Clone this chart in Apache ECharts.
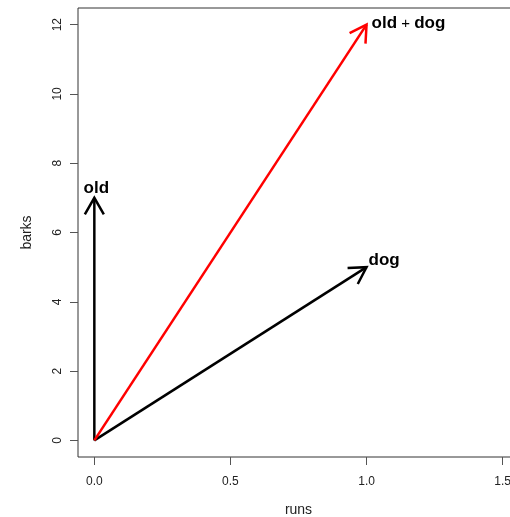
<!DOCTYPE html>
<html>
<head>
<meta charset="utf-8">
<script src="https://cdn.jsdelivr.net/npm/echarts@6/dist/echarts.min.js"></script>
<style>html,body{margin:0;padding:0;background:#fff}#c{width:510px;height:517px}</style>
</head>
<body>
<div id="c"></div>
<script>
// ---- data ----
const vectorNames = ['old', 'dog', 'old + dog'];
const vectorRuns = [0, 1, 1];      // x end (start at origin)
const vectorBarks = [7, 5, 12];    // y end
const xTicks = [0, 0.5, 1.0, 1.5];
const yTicks = [0, 2, 4, 6, 8, 10, 12];
const xTitle = 'runs';
const yTitle = 'barks';

// ---- styles ----
const vectorColors = ['#000000', '#000000', '#ff0000'];
const labelStyle = [
  { align: 'center', dx: 2, dy: -10 },
  { align: 'left', dx: 2, dy: -7 },
  { align: 'left', dx: 5, dy: -1 }
];
const FONT = '"Liberation Sans", Arial, Helvetica, sans-serif';

const chart = echarts.init(document.getElementById('c'), null, { renderer: 'canvas' });

const data = vectorNames.map((n, i) => [vectorRuns[i], vectorBarks[i], i]);

function renderItem(params, api) {
  const i = api.value(2);
  const p0 = api.coord([0, 0]);
  const p1 = api.coord([api.value(0), api.value(1)]);
  const color = vectorColors[i];
  const ang = Math.atan2(p1[1] - p0[1], p1[0] - p0[0]);
  const L = 19, a = Math.PI / 6;
  const h1 = [p1[0] - L * Math.cos(ang - a), p1[1] - L * Math.sin(ang - a)];
  const h2 = [p1[0] - L * Math.cos(ang + a), p1[1] - L * Math.sin(ang + a)];
  const ls = labelStyle[i];
  const name = vectorNames[i];
  let textStyle;
  if (name.indexOf('+') >= 0) {
    const parts = name.split('+').map(s => s.trim());
    textStyle = {
      text: '{b|' + parts[0] + '}{p| + }{b|' + parts[1] + '}',
      rich: {
        b: { fontFamily: FONT, fontWeight: 'bold', fontSize: 17, fill: '#000' },
        p: { fontFamily: FONT, fontWeight: 'normal', fontSize: 15, fill: '#000' }
      }
    };
  } else {
    textStyle = { text: name, fontFamily: FONT, fontWeight: 'bold', fontSize: 17, fill: '#000' };
  }
  textStyle.x = p1[0] + ls.dx;
  textStyle.y = p1[1] + ls.dy;
  textStyle.align = ls.align;
  textStyle.verticalAlign = 'middle';
  return {
    type: 'group',
    children: [
      { type: 'line', shape: { x1: p0[0], y1: p0[1], x2: p1[0], y2: p1[1] },
        style: { stroke: color, lineWidth: 2.5 } },
      { type: 'polyline', shape: { points: [h1, p1, h2] },
        style: { stroke: color, lineWidth: 2.5, fill: null, lineJoin: 'miter' } },
      { type: 'text', style: textStyle }
    ]
  };
}

chart.setOption({
  animation: false,
  backgroundColor: '#fff',
  grid: { left: 78, top: 8, width: 441, height: 449, show: true, borderColor: '#333', borderWidth: 1,
    backgroundColor: 'transparent', containLabel: false, outerBoundsMode: 'none' },
  xAxis: {
    type: 'value', min: -0.06, max: 1.56,
    name: xTitle, nameLocation: 'middle', nameGap: 46,
    nameTextStyle: { fontFamily: FONT, fontSize: 14, color: '#222' },
    axisLine: { show: false, onZero: false },
    splitLine: { show: false },
    axisTick: { show: true, inside: false, length: 8, customValues: xTicks, lineStyle: { color: '#555', width: 1 } },
    axisLabel: { customValues: xTicks, margin: 19, fontFamily: FONT, fontSize: 12, color: '#222',
      formatter: v => v.toFixed(1) }
  },
  yAxis: {
    type: 'value', min: -0.48, max: 12.48,
    name: yTitle, nameLocation: 'middle', nameGap: 44, nameRotate: 90,
    nameTextStyle: { fontFamily: FONT, fontSize: 14, color: '#222' },
    axisLine: { show: false, onZero: false },
    splitLine: { show: false },
    axisTick: { show: true, inside: false, length: 8, customValues: yTicks, lineStyle: { color: '#555', width: 1 } },
    axisLabel: { customValues: yTicks, margin: 14, rotate: 90, fontFamily: FONT, fontSize: 12, color: '#222',
      formatter: v => String(v) }
  },
  series: [{
    type: 'custom',
    renderItem: renderItem,
    data: data,
    encode: { x: 0, y: 1 },
    clip: false
  }]
});
</script>
</body>
</html>
